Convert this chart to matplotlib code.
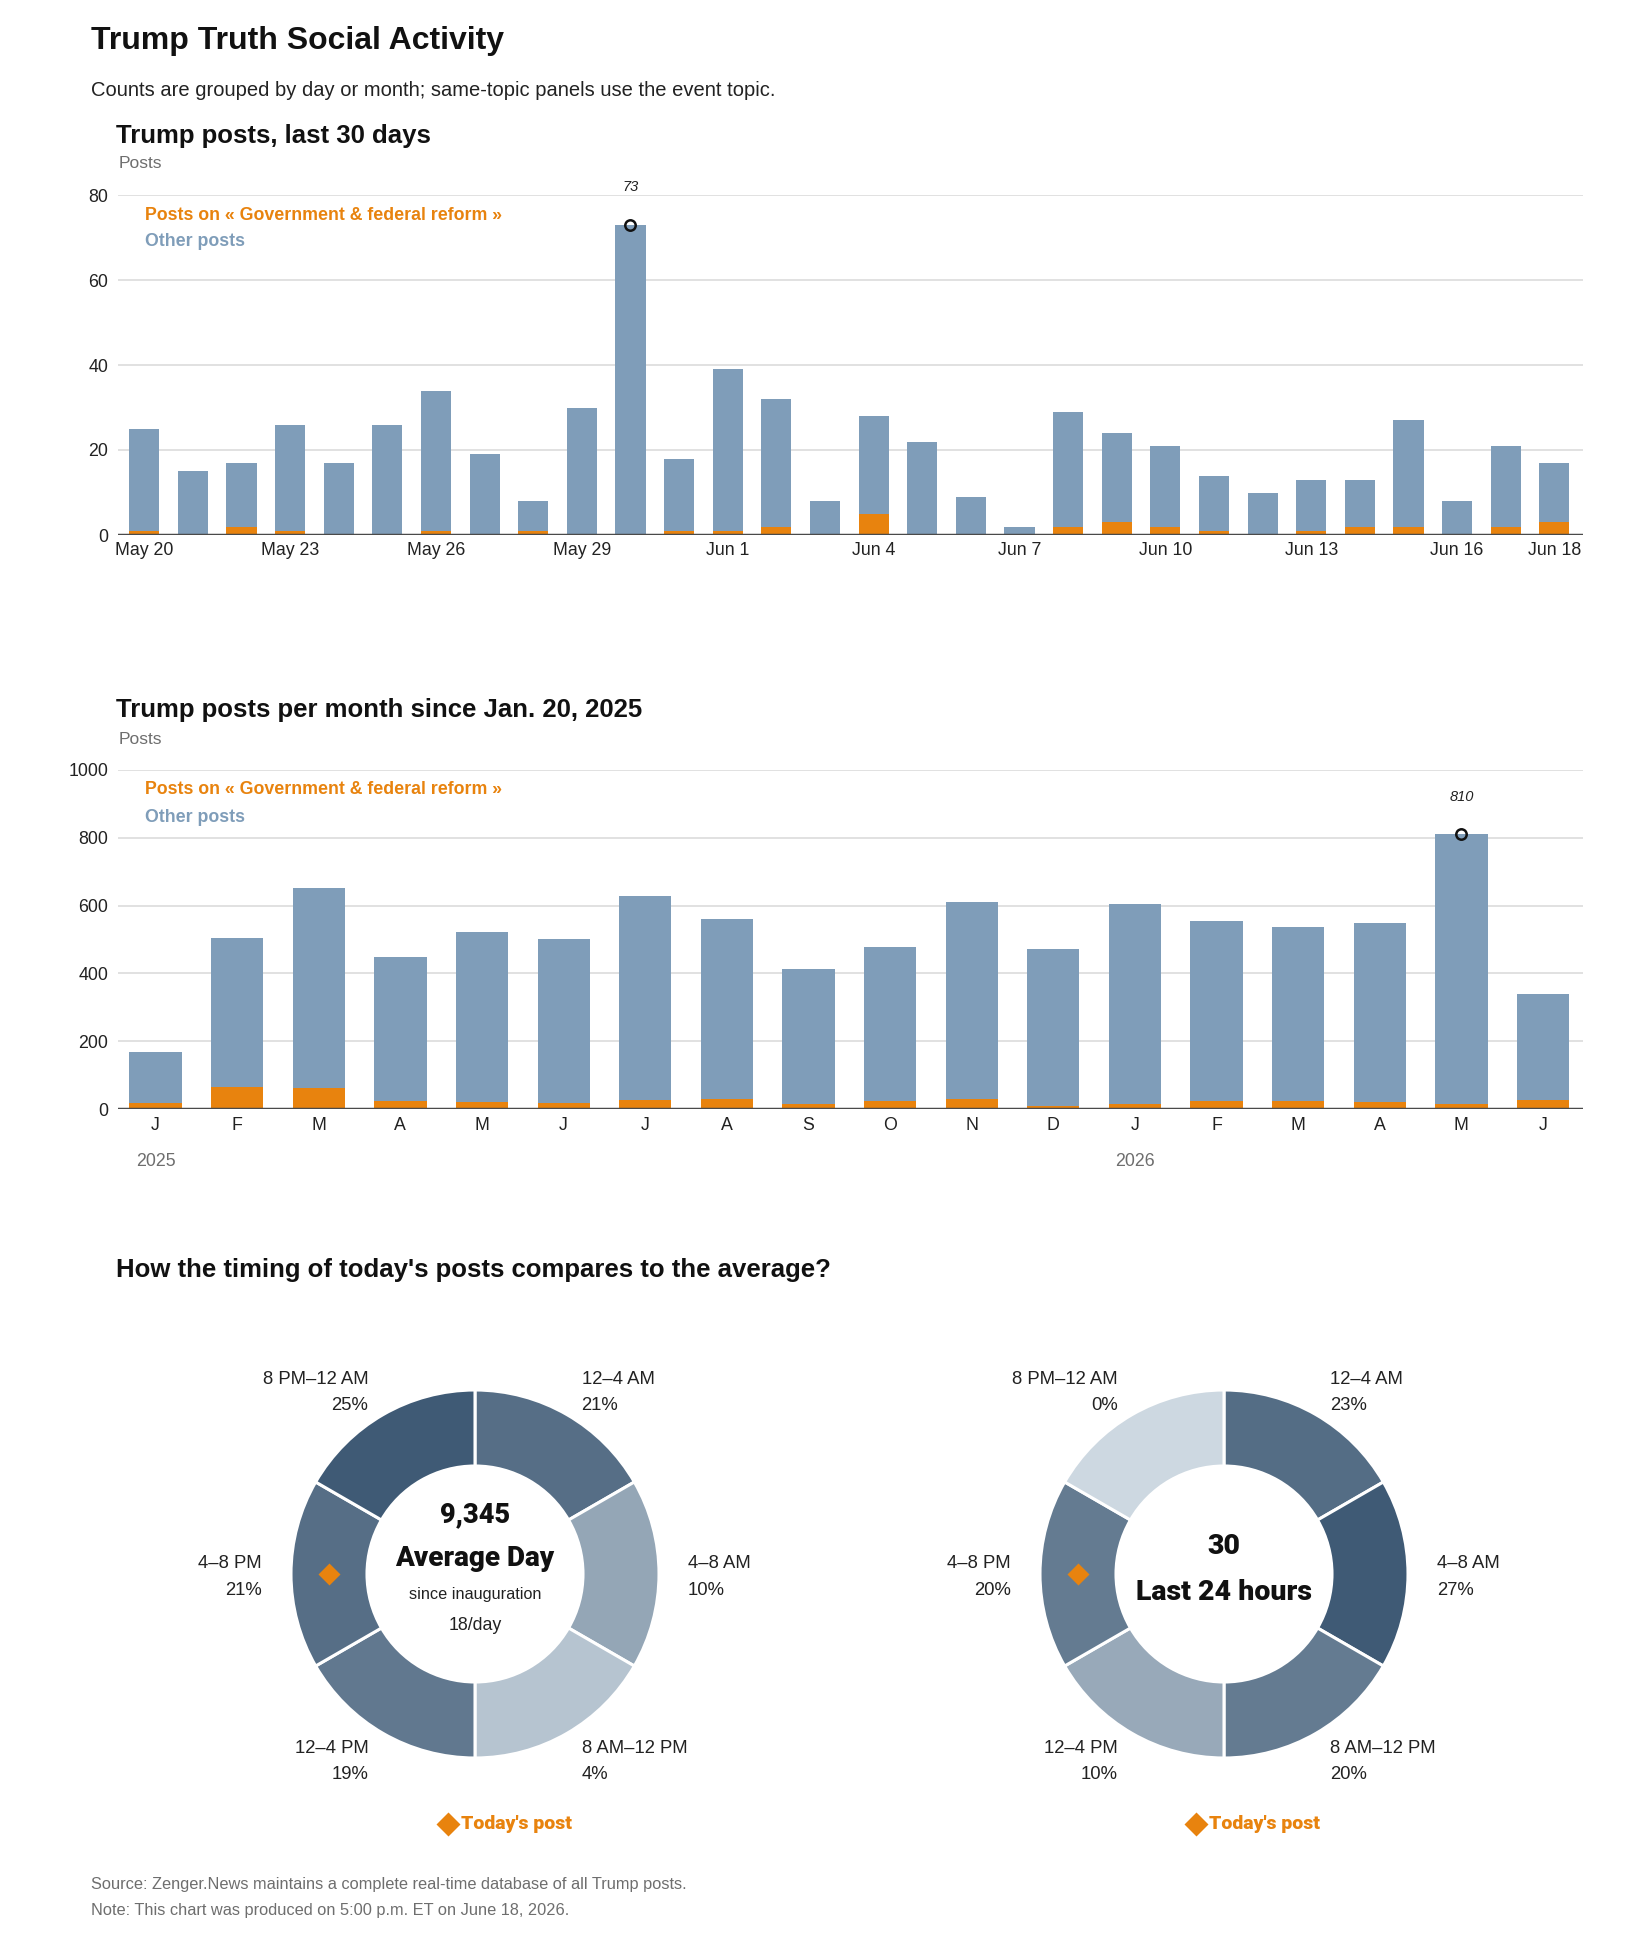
import matplotlib
matplotlib.use("Agg")
import matplotlib.pyplot as plt
import numpy as np
from matplotlib.colors import to_rgb

W, H, DPI = 1650, 1950, 100

# ---------------- data ----------------
days = ["May 20", "May 21", "May 22", "May 23", "May 24", "May 25", "May 26", "May 27",
        "May 28", "May 29", "May 30", "May 31", "Jun 1", "Jun 2", "Jun 3", "Jun 4",
        "Jun 5", "Jun 6", "Jun 7", "Jun 8", "Jun 9", "Jun 10", "Jun 11", "Jun 12",
        "Jun 13", "Jun 14", "Jun 15", "Jun 16", "Jun 17", "Jun 18"]
day_total = [25, 15, 17, 26, 17, 26, 34, 19, 8, 30, 73, 18, 39, 32, 8, 28,
             22, 9, 2, 29, 24, 21, 14, 10, 13, 13, 27, 8, 21, 17]
day_topic = [1, 0, 2, 1, 0, 0, 1, 0, 1, 0, 0, 1, 1, 2, 0, 5,
             0, 0, 0, 2, 3, 2, 1, 0, 1, 2, 2, 0, 2, 3]
day_tick_labels = ["May 20", "May 23", "May 26", "May 29", "Jun 1", "Jun 4",
                   "Jun 7", "Jun 10", "Jun 13", "Jun 16", "Jun 18"]

months = ["J", "F", "M", "A", "M", "J", "J", "A", "S", "O", "N", "D",
          "J", "F", "M", "A", "M", "J"]
month_years = ["2025"] * 12 + ["2026"] * 6
month_total = [168, 503, 653, 447, 521, 500, 629, 559, 412, 479, 612, 473,
               606, 556, 538, 550, 810, 338]
month_topic = [19, 66, 62, 25, 21, 19, 27, 30, 15, 25, 30, 9,
               15, 25, 25, 21, 15, 27]

slots = ["12–4 AM", "4–8 AM", "8 AM–12 PM", "12–4 PM", "4–8 PM", "8 PM–12 AM"]
slot_hours = [4, 4, 4, 4, 4, 4]
avg_pct = [21, 10, 4, 19, 21, 25]
today_pct = [23, 27, 20, 10, 20, 0]
avg_total_posts = 9345
avg_per_day = 18
today_total_posts = 30
today_post_slot = "4–8 PM"

topic_name = "Government & federal reform"

# ---------------- style ----------------
ORANGE = "#e8830e"
BLUE = "#7f9db9"
GRID = "#dcdcdc"
BASE = "#4a4a4a"
TXT = "#222222"
GRAY = "#6e6e6e"
LIGHT = np.array(to_rgb("#cdd8e1"))
DARK = np.array(to_rgb("#3f5a75"))

NARROW = ["Liberation Sans", "DejaVu Sans"]
NORMAL = ["Liberation Sans", "DejaVu Sans"]
HEAVY = ["Roboto", "DejaVu Sans"]

plt.rcParams["font.family"] = NORMAL

fig = plt.figure(figsize=(W / DPI, H / DPI), dpi=DPI)
fig.patch.set_facecolor("white")


def add_ax(left, top, right, bottom):
    return fig.add_axes([left / W, 1 - bottom / H, (right - left) / W, (bottom - top) / H])


def ftext(x, y, s, **kw):
    kw.setdefault("va", "center")
    return fig.text(x / W, 1 - y / H, s, **kw)


# ---------------- header ----------------
ftext(91, 41, "Trump Truth Social Activity", family=NARROW, weight="bold",
      fontsize=23, color="#111111")
ftext(91, 91, "Counts are grouped by day or month; same-topic panels use the event topic.",
      family=NARROW, fontsize=14.5, color=TXT)


def bar_panel(ax, cats_n, total, topic, yticks, ylim, width, xlim):
    x = np.arange(cats_n)
    total = np.array(total)
    topic = np.array(topic)
    ax.bar(x, topic, width=width, color=ORANGE, zorder=2)
    ax.bar(x, total - topic, bottom=topic, width=width, color=BLUE, zorder=2)
    ax.set_xlim(*xlim)
    ax.set_ylim(*ylim)
    ax.set_yticks(yticks)
    ax.grid(axis="y", color=GRID, lw=1.2, zorder=0)
    ax.set_axisbelow(True)
    for s in ax.spines.values():
        s.set_visible(False)
    ax.axhline(0, color=BASE, lw=2.5, zorder=3)
    ax.tick_params(length=0, labelsize=12.8, colors=TXT, pad=7)
    # peak annotation
    i = int(np.argmax(total))
    ax.plot(i, total[i], "o", mfc="none", mec="#111111", ms=7.5, mew=1.8,
            zorder=4, clip_on=False)
    ax.annotate(str(total[i]), (i, total[i]), xytext=(0, 27), textcoords="offset points",
                ha="center", va="center", style="italic", fontsize=10.5,
                family=NARROW, color=TXT, annotation_clip=False)
    return x


# ---------------- panel 1 ----------------
ftext(116, 136, "Trump posts, last 30 days", family=NARROW, weight="bold",
      fontsize=18.5, color="#111111")
ftext(119, 163, "Posts", family=NARROW, fontsize=12.5, color=GRAY)
ax1 = add_ax(118, 195, 1583, 535)
x1 = bar_panel(ax1, len(days), day_total, day_topic, [0, 20, 40, 60, 80], (0, 80),
               0.62, (-0.54, len(days) - 1 + 0.59))
ax1.set_xticks([days.index(d) for d in day_tick_labels])
ax1.set_xticklabels(day_tick_labels)
ax1.tick_params(axis="x", pad=5)
ftext(145, 215, "Posts on « " + topic_name + " »", family=NARROW, weight="bold",
      fontsize=12.8, color=ORANGE)
ftext(145, 242, "Other posts", family=NARROW, weight="bold", fontsize=12.8, color=BLUE)

# ---------------- panel 2 ----------------
ftext(116, 710, "Trump posts per month since Jan. 20, 2025", family=NARROW,
      weight="bold", fontsize=18.5, color="#111111")
ftext(119, 739, "Posts", family=NARROW, fontsize=12.5, color=GRAY)
ax2 = add_ax(118, 770, 1583, 1109)
x2 = bar_panel(ax2, len(months), month_total, month_topic,
               [0, 200, 400, 600, 800, 1000], (0, 1000), 0.64,
               (-0.46, len(months) - 1 + 0.49))
ax2.set_xticks(x2)
ax2.set_xticklabels(months)
ax2.tick_params(axis="x", pad=6)
for j, yr in enumerate(month_years):
    if j == 0 or month_years[j - 1] != yr:
        ax2.annotate(yr, (j, 0), xytext=(0, -38), textcoords="offset points",
                     ha="center", va="center", fontsize=12.8, family=NARROW,
                     color=GRAY, annotation_clip=False)
ftext(145, 790, "Posts on « " + topic_name + " »", family=NARROW, weight="bold",
      fontsize=12.8, color=ORANGE)
ftext(145, 817, "Other posts", family=NARROW, weight="bold", fontsize=12.8, color=BLUE)

# ---------------- donuts ----------------
ftext(116, 1270, "How the timing of today's posts compares to the average?",
      family=NARROW, weight="bold", fontsize=18.5, color="#111111")

R_OUT, RING = 184, 76
LAB_R = 213


def donut(cx, cy, pct, center_lines):
    ax = add_ax(cx - 300, cy - 300, cx + 300, cy + 300)
    pct = np.array(pct, dtype=float)
    t = pct / pct.max()
    cols = [tuple(LIGHT + (DARK - LIGHT) * v) for v in t]
    ax.pie(slot_hours, colors=cols, radius=R_OUT, startangle=90,
           counterclock=False,
           wedgeprops=dict(width=RING, edgecolor="white", linewidth=2.2))
    ax.set_xlim(-300, 300)
    ax.set_ylim(-300, 300)
    ax.set_aspect("equal")
    ax.axis("off")
    total_h = sum(slot_hours)
    cum = 0
    for k, (name, p) in enumerate(zip(slots, pct)):
        mid = (cum + slot_hours[k] / 2) / total_h * 2 * np.pi
        cum += slot_hours[k]
        lx, ly = LAB_R * np.sin(mid), LAB_R * np.cos(mid) - 3
        ha = "left" if lx > 1 else ("right" if lx < -1 else "center")
        ax.text(lx, ly, f"{name}\n{int(p)}%", ha=ha, va="center", fontsize=13.3,
                color=TXT, linespacing=1.7, clip_on=False, family=NORMAL)
        if name == today_post_slot:
            rm = R_OUT - RING / 2
            ax.plot(rm * np.sin(mid), rm * np.cos(mid), marker="D", ms=11,
                    color=ORANGE, mec="none", zorder=5)
    for dy, s, kw in center_lines:
        ax.text(0, dy, s, ha="center", va="center", clip_on=False, **kw)
    return ax


heavy = dict(family=HEAVY, weight="black", color="#111111")
donut(475, 1574, avg_pct, [
    (59, f"{avg_total_posts:,}", dict(fontsize=19.5, **heavy)),
    (15, "Average Day", dict(fontsize=20, **heavy)),
    (-21, "since inauguration", dict(fontsize=11.7, family=NORMAL, color=TXT)),
    (-51, f"{avg_per_day}/day", dict(fontsize=12.8, family=NORMAL, color=TXT)),
])
donut(1224, 1574, today_pct, [
    (28, f"{today_total_posts}", dict(fontsize=20.5, **heavy)),
    (-19, "Last 24 hours", dict(fontsize=20.5, **heavy)),
])

for dx, tx in [(448, 461), (1196, 1209)]:
    fig.lines.append(plt.Line2D([dx / W], [1 - 1824 / H], marker="D", ms=12,
                                color=ORANGE, mec="none", transform=fig.transFigure))
    ftext(tx, 1824, "Today's post", family=HEAVY, weight="black", fontsize=14,
          color=ORANGE)

# ---------------- footer ----------------
ftext(91, 1885, "Source: Zenger.News maintains a complete real-time database of all Trump posts.",
      family=NARROW, fontsize=11.8, color=GRAY)
ftext(91, 1911, "Note: This chart was produced on 5:00 p.m. ET on June 18, 2026.",
      family=NARROW, fontsize=11.8, color=GRAY)

fig.savefig("out.png", dpi=DPI, facecolor="white")
